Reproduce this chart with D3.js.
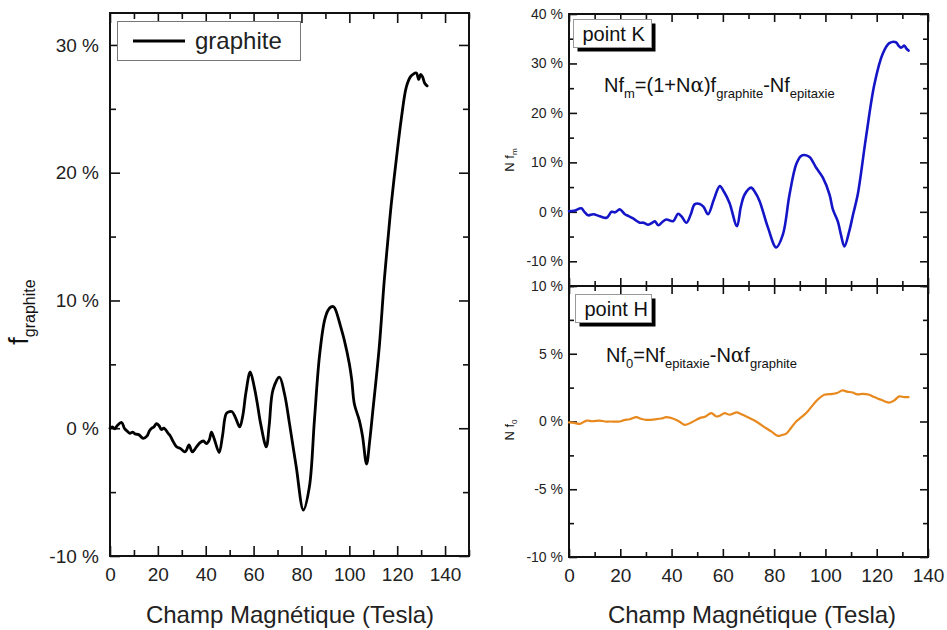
<!DOCTYPE html>
<html>
<head>
<meta charset="utf-8">
<script src="https://cdn.jsdelivr.net/npm/d3@7/dist/d3.min.js"></script>
<style>
html,body{margin:0;padding:0;background:#fff;}
svg{display:block;font-family:"Liberation Sans",Arial,sans-serif;}
</style>
</head>
<body>
<svg id="chart" width="947" height="630"></svg>
<script>
// ---------- DATA ----------
const graphiteField = [0,1,2,3,4.9,6,7,8.3,9.5,10.5,12,13.9,15.5,16.5,17.4,18.3,19.4,20.5,21.5,22.5,24.3,25.2,26,27.8,29.5,31.25,32,33,34.4,36,37.5,39,40.3,41.5,42.4,43.5,45.6,47,48.6,50,51,52.5,54.2,55.5,56.8,58.6,60.3,61.5,63,65.3,66.5,68.1,70.8,72.9,75,77.8,80.8,83.3,85.4,87.5,89.6,91,92.4,93.5,94.4,96,97.9,100,101,102.1,104.2,105.5,107.2,108.5,109.7,112.5,114.6,116,117.5,119.6,121.7,123.8,125.5,126.6,128,129,129.8,130.6,131.5,132.5];
const graphiteVal = [0.0,0.1,-0.05,0.2,0.45,0.0,-0.2,-0.4,-0.3,-0.45,-0.5,-0.8,-0.6,-0.2,0.0,0.1,0.35,0.2,-0.1,0.0,-0.4,-0.6,-0.9,-1.45,-1.6,-1.85,-1.7,-1.3,-1.85,-1.5,-1.15,-1.0,-1.2,-0.9,-0.3,-0.8,-1.9,-0.6,1.15,1.3,1.3,0.8,0.1,1.0,2.8,4.4,3.2,2.0,0.3,-1.46,0.2,3.0,4.0,2.7,0.36,-3.0,-6.4,-4.6,0.6,5.6,8.4,9.2,9.5,9.5,9.2,8.2,6.9,5.05,3.8,1.9,0.6,-0.6,-2.8,-1.0,1.15,6.35,11.6,14.5,17.5,21.0,24.2,26.7,27.5,27.7,27.8,27.3,27.7,27.5,27.0,26.8];

const kField = [0,2,4.8,6,7.5,9.5,12,14.7,16.6,18,19.8,21.8,23,25,27.6,29,30.9,32.5,33.5,34.8,36.5,38,40.6,42.5,44,45.8,47.5,49,51,52.5,54.2,56.5,58.8,60.5,62.6,65.5,67,68.5,71,72.5,74.3,77.6,80.8,83.4,86,88.6,90.5,91.8,93.8,96.4,99,101.6,102.9,104.8,106,107.4,109.3,110.8,112.6,115.8,119.1,122.3,124.9,127.5,128.5,129.5,130.8,131.6,132.4];
const kVal = [0.1,0.2,0.7,0.0,-0.7,-0.5,-0.9,-1.2,0.0,-0.1,0.5,-0.5,-0.8,-1.35,-2.2,-2.2,-2.6,-2.2,-1.9,-2.7,-2.0,-1.55,-1.9,-0.4,-1.0,-2.2,-0.5,1.5,1.6,1.0,-0.5,2.5,5.2,4.0,1.8,-2.9,1.0,3.5,4.9,4.0,2.2,-3.2,-7.2,-4.6,3.5,9.6,11.3,11.5,11.1,8.9,6.9,3.5,0.5,-1.9,-4.5,-7.0,-3.9,-0.5,3.5,15.0,25.8,31.9,34.1,34.3,33.6,33.2,33.6,33.0,32.6];

const hField = [0,2,4.3,6.9,9,12,14,16,19.8,21.5,23.7,26.3,28,30.2,34.1,36,38,41.2,43,45.1,47.7,51,53,55.5,57.5,59,60.7,62.6,65.5,67,69.1,73,76.9,79,81.5,83,84.7,86.5,88.6,90.5,92.5,95.7,97.5,99.6,102.9,104.5,106.7,108.5,110.6,112.5,114.5,117.1,119,121,123,124.9,126.8,128.8,130.7,132.4];
const hVal = [-0.07,-0.1,-0.17,0.07,0.02,0.07,0.0,0.0,0.0,0.1,0.17,0.32,0.2,0.12,0.17,0.22,0.32,0.17,0.0,-0.25,-0.07,0.25,0.35,0.62,0.37,0.45,0.62,0.5,0.67,0.55,0.37,0.0,-0.5,-0.75,-1.06,-1.0,-0.9,-0.5,0.0,0.3,0.62,1.35,1.7,1.97,2.04,2.1,2.29,2.2,2.14,2.0,2.04,1.97,1.8,1.65,1.5,1.4,1.55,1.85,1.8,1.8];

const xMajorTicks = [0,20,40,60,80,100,120,140];
const xMinorTicks = [10,30,50,70,90,110,130];
const xMinorTicksLeft = [10,30,50,70,90,110,130,150];
const leftYMajor = [-10,0,10,20,30];
const leftYMinor = [-5,5,15,25];
const kYMajor = [-10,0,10,20,30,40];
const kYMinor = [-15,-5,5,15,25,35];
const hYMajor = [-10,-5,0,5,10];
const hYMinor = [-7.5,-2.5,2.5,7.5];

const xTitle = "Champ Magnétique (Tesla)";

// ---------- DRAW ----------
const svg = d3.select("#chart");
const pct = d => d + " %";

function panel(opt){
  const x = d3.scaleLinear().domain(opt.xDomain).range([opt.x0, opt.x1]);
  const y = d3.scaleLinear().domain(opt.yDomain).range([opt.y1, opt.y0]);
  const g = svg.append("g");
  const maj = opt.majLen, mn = opt.minLen;
  // left axis with labels
  const la = g.append("g").attr("transform",`translate(${opt.x0},0)`)
    .call(d3.axisLeft(y).tickValues(opt.yMajor).tickSize(-maj).tickPadding(opt.yPad).tickFormat(opt.yLabelFilter ? (d => opt.yLabelFilter(d) ? pct(d) : "") : pct));
  la.selectAll("text").attr("font-size", opt.yFont).attr("fill","#222");
  g.append("g").attr("transform",`translate(${opt.x0},0)`)
    .call(d3.axisLeft(y).tickValues(opt.yMinor).tickSize(-mn).tickFormat(""));
  // right axis
  g.append("g").attr("transform",`translate(${opt.x1},0)`)
    .call(d3.axisRight(y).tickValues(opt.yMajor).tickSize(-maj).tickFormat(""));
  g.append("g").attr("transform",`translate(${opt.x1},0)`)
    .call(d3.axisRight(y).tickValues(opt.yMinor).tickSize(-mn).tickFormat(""));
  // bottom axis
  const ba = g.append("g").attr("transform",`translate(0,${opt.y1})`)
    .call(d3.axisBottom(x).tickValues(xMajorTicks).tickSize(-maj).tickPadding(opt.xPad).tickFormat(opt.xLabels ? d3.format("d") : ""));
  ba.selectAll("text").attr("font-size", 19).attr("fill","#222");
  g.append("g").attr("transform",`translate(0,${opt.y1})`)
    .call(d3.axisBottom(x).tickValues(opt.xMinor).tickSize(-mn).tickFormat(""));
  // top axis
  g.append("g").attr("transform",`translate(0,${opt.y0})`)
    .call(d3.axisTop(x).tickValues(xMajorTicks).tickSize(-maj).tickFormat(""));
  g.append("g").attr("transform",`translate(0,${opt.y0})`)
    .call(d3.axisTop(x).tickValues(opt.xMinor).tickSize(-mn).tickFormat(""));
  g.selectAll(".domain").remove();
  g.selectAll(".tick line").attr("stroke","#111").attr("stroke-width",1.6);
  // frame
  g.append("rect").attr("x",opt.x0).attr("y",opt.y0)
    .attr("width",opt.x1-opt.x0).attr("height",opt.y1-opt.y0)
    .attr("fill","none").attr("stroke","#111").attr("stroke-width",2);
  // curve
  const line = d3.line().x(d=>x(d[0])).y(d=>y(d[1])).curve(d3.curveCatmullRom.alpha(0.5));
  const pts = opt.fx.map((v,i)=>[v,opt.fy[i]]);
  g.append("path").datum(pts).attr("d",line).attr("fill","none")
    .attr("stroke",opt.color).attr("stroke-width",opt.lw).attr("stroke-linejoin","round").attr("stroke-linecap","round");
  return {x,y,g};
}

// Left panel
panel({x0:110,x1:469,y0:13,y1:556,xDomain:[0,150],yDomain:[-10,32.5],
  yMajor:leftYMajor,yMinor:leftYMinor,xMinor:xMinorTicksLeft,majLen:10,minLen:6,
  yPad:11,xPad:12,yFont:19,xLabels:true,fx:graphiteField,fy:graphiteVal,color:"#000",lw:2.8});

// Right top (point K)
panel({x0:569,x1:928,y0:14,y1:286,xDomain:[0,140],yDomain:[-15,40],
  yMajor:kYMajor,yMinor:kYMinor,xMinor:xMinorTicks,majLen:8,minLen:5,
  yPad:6,xPad:12,yFont:14,xLabels:false,fx:kField,fy:kVal,color:"#1515c8",lw:2.6});

// Right bottom (point H)
panel({x0:569,x1:928,y0:286,y1:557,xDomain:[0,140],yDomain:[-10,10],
  yMajor:hYMajor,yMinor:hYMinor,xMinor:xMinorTicks,majLen:8,minLen:5,
  yPad:6,xPad:12,yFont:14,xLabels:true,fx:hField,fy:hVal,color:"#e8891e",lw:2.2});

// X titles
svg.append("text").attr("x",290).attr("y",623).attr("text-anchor","middle")
  .attr("font-size",24).attr("fill","#222").text(xTitle);
svg.append("text").attr("x",752).attr("y",623).attr("text-anchor","middle")
  .attr("font-size",24).attr("fill","#222").text(xTitle);

// Left y label
const yl = svg.append("text").attr("transform","translate(28,312) rotate(-90)")
  .attr("text-anchor","middle").attr("fill","#111");
yl.append("tspan").attr("font-size",27).text("f");
yl.append("tspan").attr("font-size",16).attr("dy",7).text("graphite");

// Right y labels
function smallYLabel(cx,cy,sub){
  const t = svg.append("text").attr("transform",`translate(${cx},${cy}) rotate(-90)`)
    .attr("text-anchor","middle").attr("fill","#111");
  t.append("tspan").attr("font-size",13).text("N f");
  t.append("tspan").attr("font-size",8).attr("dy",3).text(sub);
}
smallYLabel(514,160,"m");
smallYLabel(514,430,"0");

// Legend left
svg.append("rect").attr("x",117.5).attr("y",21.5).attr("width",183).attr("height",39)
  .attr("fill","#fff").attr("stroke","#777").attr("stroke-width",1);
svg.append("line").attr("x1",133).attr("x2",185).attr("y1",41).attr("y2",41)
  .attr("stroke","#000").attr("stroke-width",2.8);
svg.append("text").attr("x",195).attr("y",49).attr("font-size",24).attr("fill","#222").text("graphite");

// point boxes
function pointBox(x,y,w,h,label){
  svg.append("rect").attr("x",x+4).attr("y",y+4).attr("width",w).attr("height",h).attr("fill","#000");
  svg.append("rect").attr("x",x).attr("y",y).attr("width",w).attr("height",h)
    .attr("fill","#fff").attr("stroke","#999").attr("stroke-width",1);
  svg.append("text").attr("x",x+9).attr("y",y+h-7).attr("font-size",20).attr("fill","#111").text(label);
}
pointBox(573.5,19.5,78,28,"point K");
pointBox(575.5,294.5,76,28,"point H");

// Equations
function eq(x,y,parts){
  const t = svg.append("text").attr("x",x).attr("y",y).attr("fill","#111");
  let shift = 0;
  parts.forEach(p=>{
    const target = p[1] ? 6 : 0;
    const ts = t.append("tspan").attr("dy", target - shift).attr("font-size", p[1] ? 13 : 20)
      .attr("font-family", p[2] ? "DejaVu Serif, serif" : null).text(p[0]);
    shift = target;
  });
}
eq(604,92,[["Nf",0],["m",1],["=(1+N",0],["α",0,1],[")f",0],["graphite",1],["-Nf",0],["epitaxie",1]]);
eq(606,362,[["Nf",0],["0",1],["=Nf",0],["epitaxie",1],["-N",0],["α",0,1],["f",0],["graphite",1]]);
</script>
</body>
</html>
